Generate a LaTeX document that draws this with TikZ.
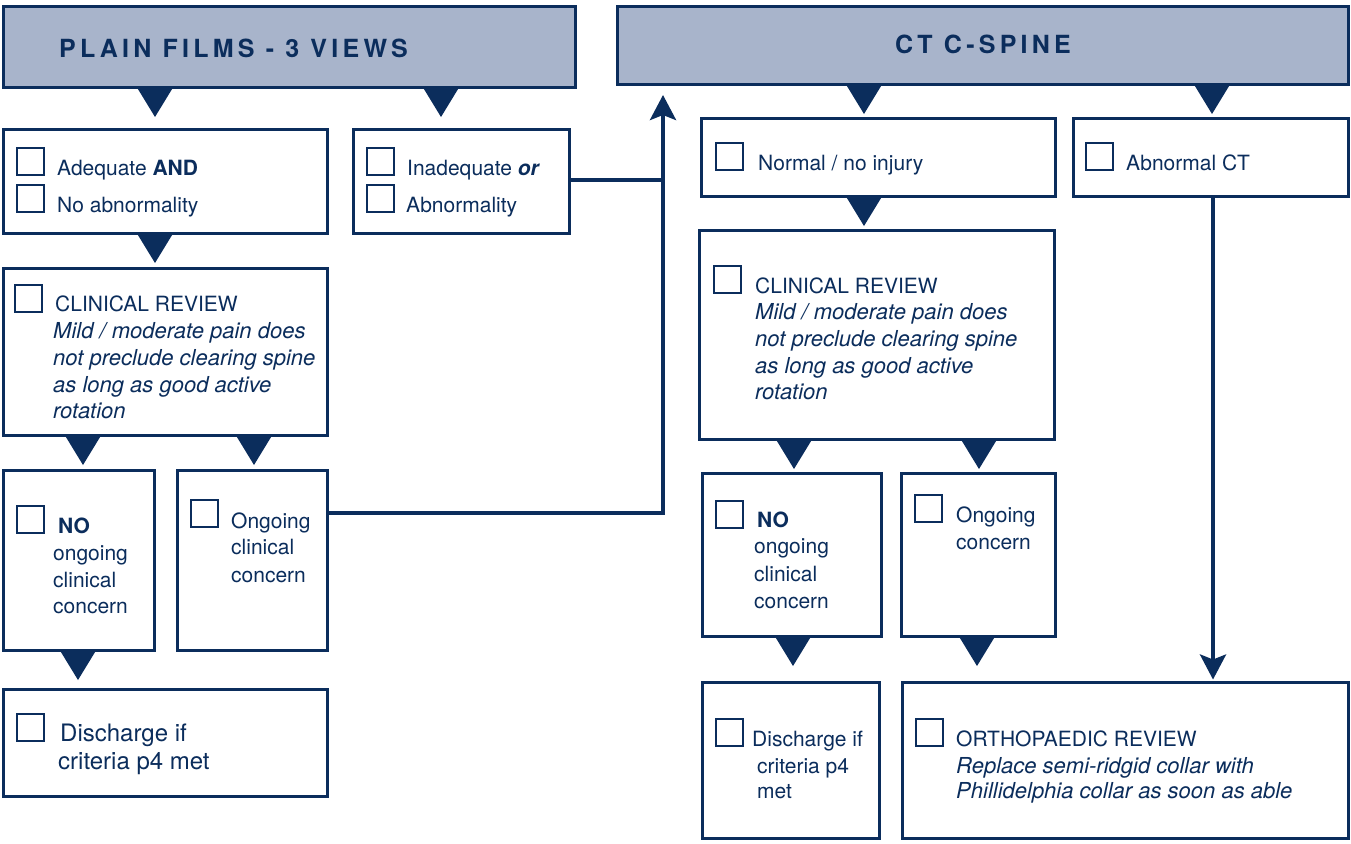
\documentclass[tikz,border=0pt]{standalone}
\usepackage{fontspec}
\setmainfont{TeX Gyre Heros}
\newfontfamily\hdrfont{TeX Gyre Heros}[LetterSpace=17]
\usetikzlibrary{arrows.meta,calc}
\definecolor{navy}{RGB}{11,45,92}
\definecolor{hdr}{RGB}{168,180,203}
\newcommand\tri[3]{\coordinate (#3) at ($(#1)+(#2,0)$);
  \fill[navy] ($(#3)+(-18,0)$) -- ($(#3)+(18,0)$) -- ($(#3)+(0,29.5)$) -- cycle;}
\begin{document}
\begin{tikzpicture}[x=1pt,y=-1pt,
  box/.style={draw=navy, line width=3pt, fill=white, inner sep=0pt, outer sep=0pt, anchor=north west},
  hbox/.style={box, fill=hdr},
  chk/.style={draw=navy, line width=1.3pt, fill=white, inner sep=0pt, outer sep=0pt, minimum width=27pt, minimum height=27pt, anchor=north west},
  txt/.style={text=navy, font=\fontsize{21}{26}\selectfont, inner sep=0pt, anchor=base west},
  itx/.style={txt, font=\fontsize{22}{26}\selectfont\itshape},
  big/.style={txt, font=\fontsize{24}{29}\selectfont},
  htx/.style={text=navy, font=\hdrfont\bfseries\fontsize{25}{30}\selectfont, inner sep=0pt},
  con/.style={draw=navy, line width=4pt},
  arr/.style={con, -{Stealth[length=25pt,width=26pt,inset=5pt]}}
]
\useasboundingbox (0,0) rectangle (1351,843);
\fill[white] (0,0) rectangle (1351,843);
% headers
\node[hbox, minimum width=572pt, minimum height=81pt] (H1) at (3.5,6.5) {};
\node[hbox, minimum width=731pt, minimum height=78pt] (H2) at (617.5,6.5) {};
\node[htx, anchor=base west] (h1t) at (59,58) {PLAIN FILMS - 3 VIEWS};
\node[htx, anchor=base] (h2t) at (983,54) {CT C-SPINE};
% left column boxes
\node[box, minimum width=324pt, minimum height=104pt] (A) at (3.5,129.5) {};
\node[box, minimum width=216pt, minimum height=104pt] (B) at (353.5,129.5) {};
\node[box, minimum width=324pt, minimum height=167pt] (C) at (3.5,268.5) {};
\node[box, minimum width=151pt, minimum height=180pt] (D) at (3.5,470.5) {};
\node[box, minimum width=150pt, minimum height=180pt] (E) at (177.5,470.5) {};
\node[box, minimum width=324pt, minimum height=107pt] (F) at (3.5,689.5) {};
% right column boxes
\node[box, minimum width=354pt, minimum height=78pt] (G) at (701.5,118.5) {};
\node[box, minimum width=275pt, minimum height=78pt] (H) at (1073.5,118.5) {};
\node[box, minimum width=355pt, minimum height=209pt] (I) at (699.5,230.5) {};
\node[box, minimum width=179pt, minimum height=163pt] (J) at (702.5,473.5) {};
\node[box, minimum width=154pt, minimum height=163pt] (K) at (901.5,473.5) {};
\node[box, minimum width=177pt, minimum height=156pt] (L) at (702.5,682.5) {};
\node[box, minimum width=446pt, minimum height=156pt] (M) at (902.5,682.5) {};
% triangles
\tri{H1.south west}{151.5}{t1}
\tri{H1.south west}{437.5}{t2}
\tri{A.south west}{151.5}{t3}
\tri{C.south west}{79.5}{t4}
\tri{C.south west}{250.5}{t5}
\tri{D.south west}{74.5}{t6}
\tri{H2.south west}{246.5}{t7}
\tri{H2.south west}{594.5}{t8}
\tri{G.south west}{162.5}{t9}
\tri{I.south west}{94.5}{t10}
\tri{I.south west}{279.5}{t11}
\tri{J.south west}{90.5}{t12}
\tri{K.south west}{75.5}{t13}
% connectors
\coordinate (up) at ($(H2.south west)+(45.5,10.5)$);
\coordinate (e1) at ($(E.north east)+(0,42.5)$);
\coordinate (b1) at ($(B.north east)+(0,50.5)$);
\draw[con] (b1) -- (b1 -| up);
\draw[arr] (e1) -- (e1 -| up) -- (up);
\coordinate (hd) at ($(H.south west)+(139.5,0)$);
\draw[arr, shorten >=3pt] (hd) -- (hd |- M.north);
% box A
\node[chk] (cA1) at (17,148) {};
\node[chk] (cA2) at (17,185) {};
\node[txt] (tA1) at (57,175) {Adequate \textbf{AND}};
\node[txt] (tA2) at (57,212) {No abnormality};
% box B
\node[chk] (cB1) at (367,148) {};
\node[chk] (cB2) at (367,185) {};
\node[txt] (tB1) at (407,175) {Inadequate \textbf{\textit{or}}};
\node[txt] (tB2) at (406,212) {Abnormality};
% box C
\node[chk] (cC) at (15,285) {};
\node[txt] (tC0) at (55,311) {CLINICAL REVIEW};
\node[itx] (tC1) at (53,338) {Mild / moderate pain does};
\node[itx] (tC2) at (53,365) {not preclude clearing spine};
\node[itx] (tC3) at (53,392) {as long as good active};
\node[itx] (tC4) at (53,418) {rotation};
% box D
\node[chk] (cD) at (17,506) {};
\node[txt] (tD0) at (58,533) {\textbf{NO}};
\node[txt] (tD1) at (53,560) {ongoing};
\node[txt] (tD2) at (53,587) {clinical};
\node[txt] (tD3) at (53,613) {concern};
% box E
\node[chk] (cE) at (191,500) {};
\node[txt] (tE1) at (231,528) {Ongoing};
\node[txt] (tE2) at (231,554) {clinical};
\node[txt] (tE3) at (231,582) {concern};
% box F
\node[chk] (cF) at (17,714) {};
\node[big] (tF1) at (60,741) {Discharge if};
\node[big] (tF2) at (58,769) {criteria p4 met};
% box G
\node[chk] (cG) at (716,143) {};
\node[txt] (tG) at (758,170) {Normal / no injury};
% box H
\node[chk] (cH) at (1086,143) {};
\node[txt] (tH) at (1126,170) {Abnormal CT};
% box I
\node[chk] (cI) at (714,266) {};
\node[txt] (tI0) at (755,293) {CLINICAL REVIEW};
\node[itx] (tI1) at (755,319.5) {Mild / moderate pain does};
\node[itx] (tI2) at (755,346.5) {not preclude clearing spine};
\node[itx] (tI3) at (755,373) {as long as good active};
\node[itx] (tI4) at (755,399.5) {rotation};
% box J
\node[chk] (cJ) at (716,501) {};
\node[txt] (tJ0) at (757,527) {\textbf{NO}};
\node[txt] (tJ1) at (754,553) {ongoing};
\node[txt] (tJ2) at (754,581) {clinical};
\node[txt] (tJ3) at (754,608) {concern};
% box K
\node[chk] (cK) at (915,495) {};
\node[txt] (tK1) at (956,522) {Ongoing};
\node[txt] (tK2) at (956,549) {concern};
% box L
\node[chk] (cL) at (716,719) {};
\node[txt] (tL1) at (752,746) {Discharge if};
\node[txt] (tL2) at (757,773) {criteria p4};
\node[txt] (tL3) at (757,798) {met};
% box M
\node[chk] (cM) at (916,719) {};
\node[txt] (tM0) at (956,746) {ORTHOPAEDIC REVIEW};
\node[itx] (tM1) at (956,773) {Replace semi-ridgid collar with};
\node[itx] (tM2) at (956,798) {Phillidelphia collar as soon as able};
\end{tikzpicture}
\end{document}
